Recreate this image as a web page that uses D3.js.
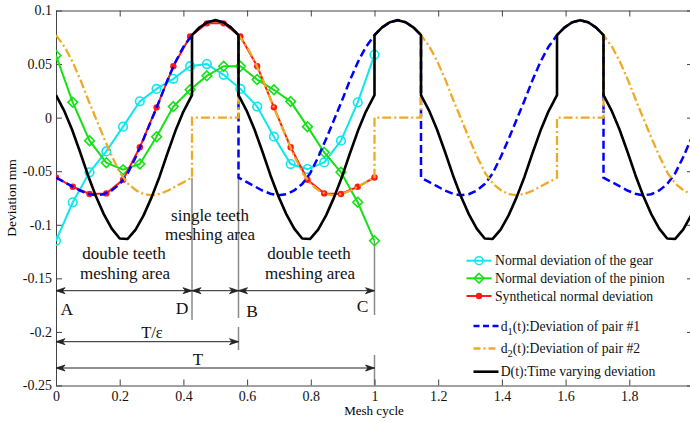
<!DOCTYPE html>
<html>
<head>
<meta charset="utf-8">
<script src="https://cdn.jsdelivr.net/npm/d3@7.9.0/dist/d3.min.js"></script>
<style>
body { margin: 0; background: #fff; }
svg { display: block; font-family: "Liberation Serif", "Times New Roman", serif; }
</style>
</head>
<body>
<svg id="chart" width="690" height="422"></svg>
<script>
// measured points along one mesh cycle
const sampleT = d3.range(20).map(i => i / 19);
const gearDev = [-0.115, -0.079, -0.051, -0.0315, -0.0084, 0.0152, 0.0268, 0.0362, 0.048, 0.050,
  0.040, 0.0268, 0.0103, -0.0178, -0.0433, -0.048, -0.0418, -0.0215, 0.0143, 0.0586];
const pinionDev = [0.058, 0.0143, -0.0215, -0.042, -0.0486, -0.0433, -0.0178, 0.0103, 0.026, 0.039,
  0.048, 0.048, 0.0355, 0.026, 0.015, -0.0084, -0.0324, -0.051, -0.079, -0.115];
const synthDev = [-0.0558, -0.0645, -0.0713, -0.0707, -0.058, -0.0277, 0.0096, 0.048, 0.0757, 0.088,
  0.088, 0.0757, 0.048, 0.0096, -0.0277, -0.058, -0.0707, -0.0713, -0.0645, -0.0558];

// deviation of one tooth pair over a mesh cycle
const pairT = [0, 0.025, 0.05, 0.075, 0.1, 0.125, 0.15, 0.175, 0.2, 0.225, 0.25, 0.275, 0.3, 0.325,
  0.35, 0.375, 0.4, 0.427, 0.45, 0.475, 0.5, 0.525, 0.55, 0.573, 0.6, 0.625, 0.65, 0.675, 0.7, 0.725,
  0.75, 0.775, 0.8, 0.825, 0.85, 0.875, 0.9, 0.925, 0.95, 0.975, 1];
const pairDev = [-0.056, -0.060, -0.064, -0.068, -0.071, -0.0725, -0.0715, -0.068, -0.062, -0.052,
  -0.037, -0.020, -0.002, 0.016, 0.035, 0.052, 0.066, 0.077, 0.084, 0.089, 0.091, 0.089, 0.084, 0.077,
  0.066, 0.052, 0.035, 0.016, -0.002, -0.020, -0.037, -0.052, -0.062, -0.068, -0.0715, -0.0725, -0.071,
  -0.068, -0.064, -0.060, -0.056];

const period = 0.573;                 // T/ε, where the next pair comes in
const singleStart = 0.427;            // point D
const xTicks = [0, 0.2, 0.4, 0.6, 0.8, 1, 1.2, 1.4, 1.6, 1.8];
const yTicks = [0.1, 0.05, 0, -0.05, -0.1, -0.15, -0.2, -0.25];

const svg = d3.select('#chart');
const x = d3.scaleLinear().domain([0, 2]).range([56, 693]);
const y = d3.scaleLinear().domain([-0.25, 0.1]).range([385.5, 10.5]);
const pair = d3.scaleLinear().domain(pairT).range(pairDev);

// build pair #1, pair #2 and the total over the window
const periods = d3.range(Math.ceil(2 / period));
const d1Pts = periods.flatMap(k =>
  pairT.filter(t => t <= period).map(t => [k * period + t, pair(t)]));
const d2Pts = periods.flatMap(k => [
  ...pairT.filter(t => t >= period).map(t => [k * period + t - period, pair(t)]),
  [k * period + singleStart, 0],
  [k * period + period, 0]
]);
const totalPts = periods.flatMap(k => [
  ...pairT.filter(t => t <= singleStart).map(u => [k * period + u, pair(u) + pair(u + period)]),
  ...pairT.filter(t => t >= singleStart && t <= period).map(u => [k * period + u, pair(u)])
]);

svg.append('clipPath').attr('id', 'plotClip')
  .append('rect').attr('x', 56).attr('y', 10.5).attr('width', 637).attr('height', 375);

const line = d3.line().x(d => x(d[0])).y(d => y(d[1]));
const zip = vals => sampleT.map((t, i) => [t, vals[i]]);

// annotation guide lines (grey)
const guides = [
  [singleStart, y(-0.056), 320],
  [period, y(-0.056), 318],
  [period, 327, 350],
  [1, y(-0.115), 315],
  [1, 355, 385]
];
svg.append('g').selectAll('line').data(guides).join('line')
  .attr('x1', d => x(d[0])).attr('x2', d => x(d[0]))
  .attr('y1', d => d[1]).attr('y2', d => d[2])
  .attr('stroke', '#8a8a8a').attr('stroke-width', 1.5);

// axes box
const axisColor = '#444';
const gx = svg.append('g').attr('transform', `translate(0,${y(-0.25)})`)
  .call(d3.axisBottom(x).tickValues(xTicks).tickSizeInner(-6).tickSizeOuter(0).tickPadding(6)
    .tickFormat(d => String(+d.toFixed(2))));
const gxTop = svg.append('g').attr('transform', `translate(0,${y(0.1)})`)
  .call(d3.axisTop(x).tickValues(xTicks).tickSizeInner(-6).tickSizeOuter(0).tickFormat(''));
const gy = svg.append('g').attr('transform', `translate(${x(0)},0)`)
  .call(d3.axisLeft(y).tickValues(yTicks).tickSizeInner(-6).tickSizeOuter(0).tickPadding(4)
    .tickFormat(d => String(+d.toFixed(2))));
const gyRight = svg.append('g').attr('transform', `translate(${x(2)},0)`)
  .call(d3.axisRight(y).tickValues(yTicks).tickSizeInner(-6).tickSizeOuter(0).tickFormat(''));
[gx, gxTop, gy, gyRight].forEach(g => {
  g.selectAll('path,line').attr('stroke', axisColor);
  g.selectAll('text').attr('fill', '#111').style('font-size', '14px')
    .style('font-family', '"Liberation Serif", serif');
});

svg.append('text').attr('x', 374).attr('y', 415).attr('text-anchor', 'middle')
  .style('font-size', '13px').text('Mesh cycle');
svg.append('text').attr('transform', 'translate(16,198) rotate(-90)').attr('text-anchor', 'middle')
  .style('font-size', '13.5px').text('Deviation mm');

// series
const plot = svg.append('g').attr('clip-path', 'url(#plotClip)');
const gearColor = '#10e6ee', pinionColor = '#16e016', synthColor = '#ff1a1a';
const blue = '#0000ff', orange = '#eeaa22';

plot.append('path').attr('d', line(zip(gearDev))).attr('fill', 'none')
  .attr('stroke', gearColor).attr('stroke-width', 2);
plot.append('g').selectAll('circle').data(zip(gearDev)).join('circle')
  .attr('cx', d => x(d[0])).attr('cy', d => y(d[1])).attr('r', 4.3)
  .attr('fill', 'none').attr('stroke', gearColor).attr('stroke-width', 1.6);

const diamond = d3.symbol().type(d3.symbolDiamond2).size(60);
plot.append('path').attr('d', line(zip(pinionDev))).attr('fill', 'none')
  .attr('stroke', pinionColor).attr('stroke-width', 2);
plot.append('g').selectAll('path').data(zip(pinionDev)).join('path')
  .attr('transform', d => `translate(${x(d[0])},${y(d[1])})`).attr('d', diamond)
  .attr('fill', 'none').attr('stroke', pinionColor).attr('stroke-width', 1.6);

plot.append('path').attr('d', line(zip(synthDev))).attr('fill', 'none')
  .attr('stroke', synthColor).attr('stroke-width', 2);
plot.append('g').selectAll('circle').data(zip(synthDev)).join('circle')
  .attr('cx', d => x(d[0])).attr('cy', d => y(d[1])).attr('r', 3.2)
  .attr('fill', synthColor);

plot.append('path').attr('d', line(d1Pts)).attr('fill', 'none')
  .attr('stroke', blue).attr('stroke-width', 2.5).attr('stroke-dasharray', '8,4');
plot.append('path').attr('d', line(d2Pts)).attr('fill', 'none')
  .attr('stroke', orange).attr('stroke-width', 2.3).attr('stroke-dasharray', '9,3,2,3');
plot.append('path').attr('d', line(totalPts)).attr('fill', 'none')
  .attr('stroke', '#000').attr('stroke-width', 2.6).attr('stroke-linejoin', 'round');

// dimension arrows
function arrow(x0, x1, yy) {
  const g = svg.append('g').attr('stroke', '#222').attr('fill', '#222');
  g.append('line').attr('x1', x0).attr('x2', x1).attr('y1', yy).attr('y2', yy).attr('stroke-width', 1);
  g.append('path').attr('stroke-width', 0.8)
    .attr('d', `M${x0},${yy}L${x0 + 9},${yy - 3}L${x0 + 6.5},${yy}L${x0 + 9},${yy + 3}Z`);
  g.append('path').attr('stroke-width', 0.8)
    .attr('d', `M${x1},${yy}L${x1 - 9},${yy - 3}L${x1 - 6.5},${yy}L${x1 - 9},${yy + 3}Z`);
}
arrow(x(0), x(singleStart), 290.7);
arrow(x(singleStart), x(period), 290.7);
arrow(x(period), x(1), 290.7);
arrow(x(0), x(period), 341.7);
arrow(x(0), x(1), 368);

const notes = [
  ['double teeth', 124, 259, 17], ['meshing area', 125, 278.5, 17],
  ['single teeth', 210, 220.5, 17], ['meshing area', 210, 240, 17],
  ['double teeth', 309, 259, 17], ['meshing area', 310, 278.5, 17],
  ['A', 66.7, 315, 17.5], ['D', 182, 313.5, 17.5], ['B', 252, 316.5, 17.5], ['C', 362.5, 311.5, 17.5],
  ['T/ε', 152, 337.5, 16.5], ['T', 198, 365, 17]
];
svg.append('g').selectAll('text').data(notes).join('text')
  .attr('x', d => d[1]).attr('y', d => d[2]).attr('text-anchor', 'middle')
  .style('font-size', d => d[3] + 'px').attr('fill', '#111').text(d => d[0]);

// legend
const leg = svg.append('g').style('font-size', '13.7px').attr('fill', '#111');
const markerRows = [
  { y: 260.7, color: gearColor, label: 'Normal deviation of the gear', mark: 'circle' },
  { y: 278.3, color: pinionColor, label: 'Normal deviation of the pinion', mark: 'diamond' },
  { y: 296, color: synthColor, label: 'Synthetical normal deviation', mark: 'dot' }
];
markerRows.forEach(r => {
  leg.append('line').attr('x1', 466.5).attr('x2', 491.5).attr('y1', r.y).attr('y2', r.y)
    .attr('stroke', r.color).attr('stroke-width', 2);
  if (r.mark === 'circle') {
    leg.append('circle').attr('cx', 479).attr('cy', r.y).attr('r', 4)
      .attr('fill', 'none').attr('stroke', r.color).attr('stroke-width', 1.6);
  } else if (r.mark === 'diamond') {
    leg.append('path').attr('transform', `translate(479,${r.y})`).attr('d', diamond)
      .attr('fill', 'none').attr('stroke', r.color).attr('stroke-width', 1.6);
  } else {
    leg.append('circle').attr('cx', 479).attr('cy', r.y).attr('r', 3.2).attr('fill', r.color);
  }
  leg.append('text').attr('x', 495).attr('y', r.y + 4.6).text(r.label);
});
const lineRows = [
  { y: 326, color: blue, dash: '6,3.5', w: 2.5, name: 'd', sub: '1', rest: '(t):Deviation of pair #1' },
  { y: 348.5, color: orange, dash: '7,3,2,3', w: 2.3, name: 'd', sub: '2', rest: '(t):Deviation of pair #2' },
  { y: 371.7, color: '#000', dash: null, w: 2.6, name: 'D', sub: '', rest: '(t):Time varying deviation' }
];
lineRows.forEach(r => {
  leg.append('line').attr('x1', 473.5).attr('x2', 498.5).attr('y1', r.y).attr('y2', r.y)
    .attr('stroke', r.color).attr('stroke-width', r.w).attr('stroke-dasharray', r.dash);
  const t = leg.append('text').attr('x', 500.7).attr('y', r.y + 4.6);
  t.append('tspan').text(r.name);
  if (r.sub) {
    t.append('tspan').attr('dy', 4).style('font-size', '10.5px').text(r.sub);
    t.append('tspan').attr('dy', -4).text(r.rest);
  } else {
    t.append('tspan').text(r.rest);
  }
});
</script>
</body>
</html>
